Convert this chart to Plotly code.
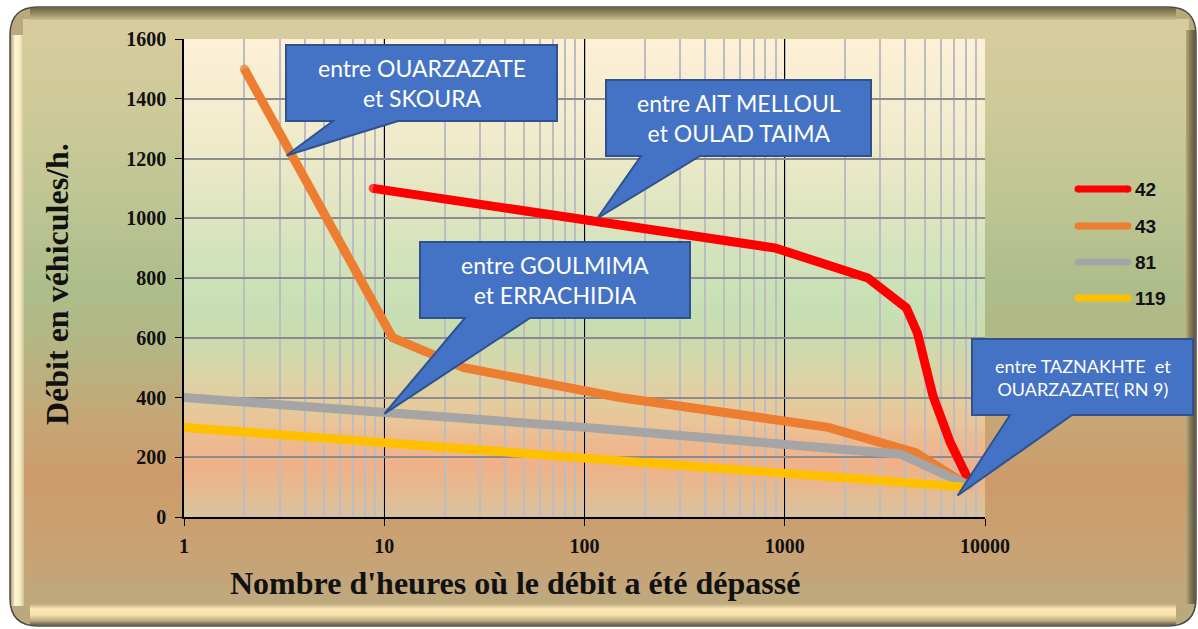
import numpy as np
import plotly.graph_objects as go

# ---------------- data ----------------
series_names = ["42", "43", "81", "119"]
series_colors = ["#FF0000", "#ED7D31", "#A5A5A5", "#FFC000"]

hours_42 = [8.8, 900, 2600, 4050, 4600, 5500, 6700, 8200]
flow_42 = [1100, 900, 800, 700, 615, 405, 250, 130]

hours_43 = [2, 11, 25, 150, 1650, 4500, 8000]
flow_43 = [1500, 600, 500, 400, 300, 215, 110]

hours_81 = [1, 10, 100, 3800, 8300]
flow_81 = [400, 350, 300, 210, 105]

hours_119 = [1, 10, 100, 1000, 8000]
flow_119 = [300, 250, 200, 150, 100]

x_tickvals = [1, 10, 100, 1000, 10000]
x_ticktext = ["1", "10", "100", "1000", "10000"]
y_tickvals = [0, 200, 400, 600, 800, 1000, 1200, 1400, 1600]

callout_texts = [
    "entre OUARZAZATE<br>et SKOURA",
    "entre AIT MELLOUL<br>et OULAD TAIMA",
    "entre GOULMIMA<br>et ERRACHIDIA",
    "entre TAZNAKHTE  et<br>OUARZAZATE( RN 9)",
]
# point each callout refers to (hours, flow)
callout_tips = [(3.25, 1210), (116, 1000), (10, 345), (7300, 72)]

# ---------------- layout geometry ----------------
W, H = 1198, 629
ML, MR, MT, MB = 184, 213, 39, 112
PW = W - ML - MR
PH = H - MT - MB
XMIN, XMAX = 0.0, 4.0
YMIN, YMAX = 0.0, 1600.0


def px(x):
    return (x - ML) / PW


def py(y):
    return 1 - (y - MT) / PH


def dx(v):
    return (np.log10(v) - XMIN) / (XMAX - XMIN)


def dy(v):
    return (v - YMIN) / (YMAX - YMIN)


def hexmix(c1, c2, t):
    a = [int(c1[i:i + 2], 16) for i in (1, 3, 5)]
    b = [int(c2[i:i + 2], 16) for i in (1, 3, 5)]
    c = [round(a[k] + (b[k] - a[k]) * t) for k in range(3)]
    return "#%02x%02x%02x" % tuple(c)


def grad_color(stops, y):
    for (y0, c0), (y1, c1) in zip(stops[:-1], stops[1:]):
        if y0 <= y <= y1:
            return hexmix(c0, c1, (y - y0) / (y1 - y0) if y1 > y0 else 0)
    return stops[-1][1] if y > stops[-1][0] else stops[0][1]


shapes = []

# outer rounded frame
fx0, fy0, fx1, fy1, r = 10, 7, 1196, 626, 28
path = (f"M {px(fx0 + r)},{py(fy0)} L {px(fx1 - r)},{py(fy0)} "
        f"Q {px(fx1)},{py(fy0)} {px(fx1)},{py(fy0 + r)} "
        f"L {px(fx1)},{py(fy1 - r)} Q {px(fx1)},{py(fy1)} {px(fx1 - r)},{py(fy1)} "
        f"L {px(fx0 + r)},{py(fy1)} Q {px(fx0)},{py(fy1)} {px(fx0)},{py(fy1 - r)} "
        f"L {px(fx0)},{py(fy0 + r)} Q {px(fx0)},{py(fy0)} {px(fx0 + r)},{py(fy0)} Z")
shapes.append(dict(type="path", path=path, xref="paper", yref="paper",
                   fillcolor="#b9a97c", line=dict(color="#4a4a4a", width=1.5), layer="below"))

# frame gradient (inner)
frame_stops = [(20, "#d8cc9e"), (100, "#cfca99"), (200, "#bec593"), (290, "#adbd8a"),
               (350, "#b5b583"), (420, "#c6a675"), (480, "#cd9b6b"), (560, "#c8a375"),
               (606, "#bda97f")]
n = 90
y0, y1 = 19, 607
for i in range(n):
    a = y0 + (y1 - y0) * i / n
    b = y0 + (y1 - y0) * (i + 1) / n
    shapes.append(dict(type="rect", xref="paper", yref="paper",
                       x0=px(23), x1=px(1189), y0=py(a), y1=py(b + 0.6),
                       fillcolor=grad_color(frame_stops, (a + b) / 2), line=dict(width=0),
                       layer="below"))
# bevel strips
top_stops = [(8, "#6f6744"), (14, "#9a8d62"), (20, "#cdbf90")]
for i in range(12):
    a = 8 + i
    shapes.append(dict(type="rect", xref="paper", yref="paper",
                       x0=px(30), x1=px(1176), y0=py(a), y1=py(a + 1.1),
                       fillcolor=grad_color(top_stops, a + 0.5), line=dict(width=0), layer="below"))
left_stops = [(11, "#b8a878"), (15, "#fff8d8"), (20, "#f6ecc0"), (24, "#cfc496")]
for i in range(13):
    a = 11 + i
    shapes.append(dict(type="rect", xref="paper", yref="paper",
                       x0=px(a), x1=px(a + 1.1), y0=py(35), y1=py(606),
                       fillcolor=grad_color(left_stops, a + 0.5), line=dict(width=0), layer="below"))
bot_stops = [(604, "#c2ab80"), (609, "#fde9b6"), (615, "#f6dfa8"), (621, "#b8a57c"), (625, "#6a6048")]
for i in range(21):
    a = 604 + i
    shapes.append(dict(type="rect", xref="paper", yref="paper",
                       x0=px(30), x1=px(1176), y0=py(a), y1=py(a + 1.1),
                       fillcolor=grad_color(bot_stops, a + 0.5), line=dict(width=0), layer="below"))
right_stops = [(1186, "#b9a97c"), (1190, "#8a7f58"), (1195, "#5e5640")]
for i in range(9):
    a = 1186 + i
    shapes.append(dict(type="rect", xref="paper", yref="paper",
                       x0=px(a), x1=px(a + 1.1), y0=py(30), y1=py(604),
                       fillcolor=grad_color(right_stops, a + 0.5), line=dict(width=0), layer="below"))

# plot-area gradient
plot_stops = [(39, "#fdf0d6"), (120, "#f3ecce"), (200, "#e2e6c2"), (300, "#c8e0b6"),
              (335, "#c9dcb0"), (380, "#dcd3a6"), (420, "#e9c597"), (462, "#f1b189"),
              (490, "#e7b991"), (518, "#d6c4a2")]
n = 80
for i in range(n):
    a = MT + PH * i / n
    b = MT + PH * (i + 1) / n
    shapes.append(dict(type="rect", xref="paper", yref="paper",
                       x0=0, x1=1, y0=py(a), y1=py(min(b + 0.6, MT + PH)),
                       fillcolor=grad_color(plot_stops, (a + b) / 2), line=dict(width=0),
                       layer="below"))

# ---------------- traces ----------------
fig = go.Figure()
all_x = [hours_42, hours_43, hours_81, hours_119]
all_y = [flow_42, flow_43, flow_81, flow_119]
for name, color, xs, ys in zip(series_names, series_colors, all_x, all_y):
    sizes = [9] + [0] * (len(xs) - 2) + [9]
    fig.add_trace(go.Scatter(x=xs, y=ys, name=name, mode="lines+markers",
                             line=dict(color=color, width=9),
                             marker=dict(color=color, size=sizes, line=dict(width=0)),
                             showlegend=False, hoverinfo="skip"))

# ---------------- callouts ----------------
boxes = [  # (x0, y0, x1, y1) px, tail base (xa, xb) px, font size
    ((286, 45, 557, 121), (333, 398), 23),
    ((606, 80, 871, 156), (641, 700), 23),
    ((420, 242, 690, 318), (465, 530), 23),
    ((972, 339, 1193, 415), (1010, 1072), 18),
]
annotations = []
for (bx, tb, fs), txt, (tx, ty) in zip(boxes, callout_texts, callout_tips):
    x0, y0, x1, y1 = bx
    tipx, tipy = dx(tx), dy(ty)
    p = (f"M {px(x0)},{py(y0)} L {px(x1)},{py(y0)} L {px(x1)},{py(y1)} "
         f"L {px(tb[1])},{py(y1)} L {tipx},{tipy} L {px(tb[0])},{py(y1)} "
         f"L {px(x0)},{py(y1)} Z")
    shapes.append(dict(type="path", path=p, xref="paper", yref="paper",
                       fillcolor="#4472C4", line=dict(color="#2F528F", width=2), layer="above"))
    annotations.append(dict(x=px((x0 + x1) / 2), y=py((y0 + y1) / 2), xref="paper", yref="paper",
                            text=txt, showarrow=False, xanchor="center", yanchor="middle",
                            font=dict(family="Lato, Open Sans, sans-serif", size=fs, color="white")))

# ---------------- custom legend ----------------
leg_y = [189, 226, 262, 298]
for name, color, ly in zip(series_names, series_colors, leg_y):
    shapes.append(dict(type="line", xref="paper", yref="paper",
                       x0=px(1078), x1=px(1128), y0=py(ly), y1=py(ly),
                       line=dict(color=color, width=7), layer="above"))
    shapes.append(dict(type="circle", xref="paper", yref="paper",
                       x0=px(1074.5), x1=px(1081.5), y0=py(ly - 3.5), y1=py(ly + 3.5),
                       fillcolor=color, line=dict(width=0), layer="above"))
    shapes.append(dict(type="circle", xref="paper", yref="paper",
                       x0=px(1124.5), x1=px(1131.5), y0=py(ly - 3.5), y1=py(ly + 3.5),
                       fillcolor=color, line=dict(width=0), layer="above"))
    annotations.append(dict(x=px(1133), y=py(ly), xref="paper", yref="paper",
                            text="<b>" + name + "</b>",
                            showarrow=False, xanchor="left", yanchor="middle",
                            font=dict(family="Liberation Sans, Arial", size=19, color="#111111")))

# ---------------- axis titles ----------------
title_font = dict(family="Liberation Serif, Times New Roman, serif", size=32, color="#111111")
annotations.append(dict(x=px(515), y=py(583), xref="paper", yref="paper",
                        text="<b>Nombre d'heures où le débit a été dépassé</b>", showarrow=False,
                        xanchor="center", yanchor="middle", font=title_font))
annotations.append(dict(x=px(57), y=py(284), xref="paper", yref="paper",
                        text="<b>Débit en véhicules/h.</b>", showarrow=False, textangle=-90,
                        xanchor="center", yanchor="middle", font=title_font))

tick_font = dict(family="Liberation Serif, Times New Roman, serif", size=20, color="#111111",
                 weight="bold")

fig.update_layout(
    width=W, height=H,
    margin=dict(l=ML, r=MR, t=MT, b=MB, pad=0),
    paper_bgcolor="white",
    plot_bgcolor="rgba(0,0,0,0)",
    shapes=shapes,
    annotations=annotations,
    showlegend=False,
    xaxis=dict(type="log", range=[XMIN, XMAX], tickvals=x_tickvals, ticktext=x_ticktext,
               showgrid=True, gridcolor="#000000", gridwidth=1,
               minor=dict(dtick="D1", showgrid=True, gridcolor="#bcbdc2", gridwidth=2, ticks=""),
               ticks="outside", ticklen=7, tickcolor="#000000", tickwidth=1.2,
               showline=True, linecolor="#000000", linewidth=1.5,
               tickfont=tick_font, ticklabelstandoff=3, zeroline=False),
    yaxis=dict(range=[YMIN, YMAX], tickvals=y_tickvals,
               showgrid=True, gridcolor="#8c8c8c", gridwidth=1.5,
               ticks="outside", ticklen=7, tickcolor="#000000", tickwidth=1.2,
               showline=True, linecolor="#000000", linewidth=1.5,
               tickfont=tick_font, ticklabelstandoff=5, zeroline=False),
)

fig.write_html("out.html", config={"displayModeBar": False},
               post_script="document.body.style.margin='0px';document.body.style.padding='0px';")
